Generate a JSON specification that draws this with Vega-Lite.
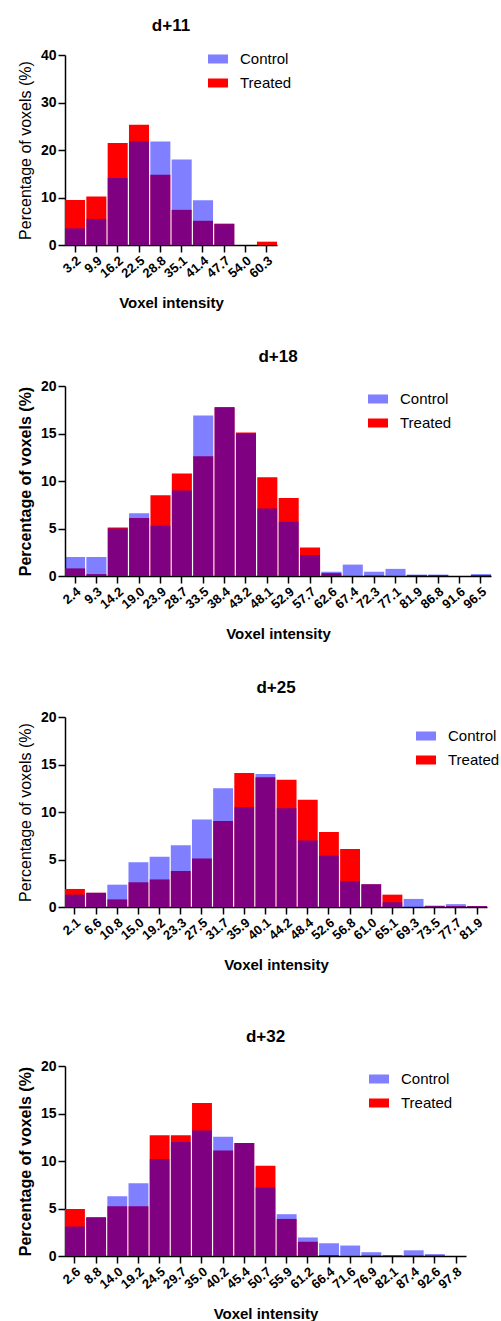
{
  "$schema": "https://vega.github.io/schema/vega-lite/v6.json",
  "padding": {"top": 17, "left": 17, "right": 0, "bottom": 0},
  "background": "white",
  "config": {
    "font": "Liberation Sans",
    "view": {"stroke": null},
    "axis": {"grid": false, "domainColor": "black", "tickColor": "black", "labelColor": "black", "titleColor": "black", "domainWidth": 1.5, "tickWidth": 1.5, "tickSize": 7, "labelPadding": 2, "labelFont": "Liberation Sans", "titleFont": "Liberation Sans"},
    "axisX": {"labelFontSize": 13, "labelFontWeight": "bold", "titleFontSize": 15, "titleFontWeight": "bold", "titlePadding": 15},
    "axisY": {"labelFontSize": 14, "labelFontWeight": "bold", "titleFontSize": 16, "titleFontWeight": "normal", "titlePadding": 7},
    "title": {"fontSize": 17, "fontWeight": "bold", "color": "black", "anchor": "middle", "frame": "group", "offset": 13, "font": "Liberation Sans"},
    "legend": {"title": null, "orient": "none", "symbolType": "M-1,-0.45H1V0.45H-1Z", "symbolSize": 400, "symbolStrokeWidth": 0, "labelFontSize": 15, "labelColor": "black", "labelOffset": 12, "rowPadding": 6, "padding": 0, "labelFont": "Liberation Sans"},
    "bar": {"strokeWidth": 0}
  },
  "datasets": {
    "d11": [
      {"bin": "3.2", "group": "Treated", "pct": 9.5}, {"bin": "3.2", "group": "Control", "pct": 3.5},
      {"bin": "9.9", "group": "Treated", "pct": 10.2}, {"bin": "9.9", "group": "Control", "pct": 5.5},
      {"bin": "16.2", "group": "Treated", "pct": 21.5}, {"bin": "16.2", "group": "Control", "pct": 14.1},
      {"bin": "22.5", "group": "Treated", "pct": 25.3}, {"bin": "22.5", "group": "Control", "pct": 21.8},
      {"bin": "28.8", "group": "Treated", "pct": 14.8}, {"bin": "28.8", "group": "Control", "pct": 21.8},
      {"bin": "35.1", "group": "Treated", "pct": 7.4}, {"bin": "35.1", "group": "Control", "pct": 18.0},
      {"bin": "41.4", "group": "Treated", "pct": 5.1}, {"bin": "41.4", "group": "Control", "pct": 9.4},
      {"bin": "47.7", "group": "Treated", "pct": 4.5}, {"bin": "47.7", "group": "Control", "pct": 4.4},
      {"bin": "54.0", "group": "Treated", "pct": 0}, {"bin": "54.0", "group": "Control", "pct": 0},
      {"bin": "60.3", "group": "Treated", "pct": 0.7}, {"bin": "60.3", "group": "Control", "pct": 0}
    ],
    "d18": [
      {"bin": "2.4", "group": "Treated", "pct": 0.8}, {"bin": "2.4", "group": "Control", "pct": 2.0},
      {"bin": "9.3", "group": "Treated", "pct": 0.2}, {"bin": "9.3", "group": "Control", "pct": 2.0},
      {"bin": "14.2", "group": "Treated", "pct": 5.1}, {"bin": "14.2", "group": "Control", "pct": 5.0},
      {"bin": "19.0", "group": "Treated", "pct": 6.1}, {"bin": "19.0", "group": "Control", "pct": 6.6},
      {"bin": "23.9", "group": "Treated", "pct": 8.5}, {"bin": "23.9", "group": "Control", "pct": 5.3},
      {"bin": "28.7", "group": "Treated", "pct": 10.8}, {"bin": "28.7", "group": "Control", "pct": 9.0},
      {"bin": "33.5", "group": "Treated", "pct": 12.6}, {"bin": "33.5", "group": "Control", "pct": 16.9},
      {"bin": "38.4", "group": "Treated", "pct": 17.8}, {"bin": "38.4", "group": "Control", "pct": 17.7},
      {"bin": "43.2", "group": "Treated", "pct": 15.1}, {"bin": "43.2", "group": "Control", "pct": 15.0},
      {"bin": "48.1", "group": "Treated", "pct": 10.4}, {"bin": "48.1", "group": "Control", "pct": 7.1},
      {"bin": "52.9", "group": "Treated", "pct": 8.2}, {"bin": "52.9", "group": "Control", "pct": 5.7},
      {"bin": "57.7", "group": "Treated", "pct": 3.0}, {"bin": "57.7", "group": "Control", "pct": 2.2},
      {"bin": "62.6", "group": "Treated", "pct": 0.3}, {"bin": "62.6", "group": "Control", "pct": 0.45},
      {"bin": "67.4", "group": "Treated", "pct": 0}, {"bin": "67.4", "group": "Control", "pct": 1.2},
      {"bin": "72.3", "group": "Treated", "pct": 0.05}, {"bin": "72.3", "group": "Control", "pct": 0.45},
      {"bin": "77.1", "group": "Treated", "pct": 0}, {"bin": "77.1", "group": "Control", "pct": 0.75},
      {"bin": "81.9", "group": "Treated", "pct": 0.1}, {"bin": "81.9", "group": "Control", "pct": 0.15},
      {"bin": "86.8", "group": "Treated", "pct": 0.1}, {"bin": "86.8", "group": "Control", "pct": 0.15},
      {"bin": "91.6", "group": "Treated", "pct": 0}, {"bin": "91.6", "group": "Control", "pct": 0},
      {"bin": "96.5", "group": "Treated", "pct": 0.1}, {"bin": "96.5", "group": "Control", "pct": 0.2}
    ],
    "d25": [
      {"bin": "2.1", "group": "Treated", "pct": 1.9}, {"bin": "2.1", "group": "Control", "pct": 1.3},
      {"bin": "6.6", "group": "Treated", "pct": 1.5}, {"bin": "6.6", "group": "Control", "pct": 1.5},
      {"bin": "10.8", "group": "Treated", "pct": 0.8}, {"bin": "10.8", "group": "Control", "pct": 2.35},
      {"bin": "15.0", "group": "Treated", "pct": 2.6}, {"bin": "15.0", "group": "Control", "pct": 4.7},
      {"bin": "19.2", "group": "Treated", "pct": 2.9}, {"bin": "19.2", "group": "Control", "pct": 5.3},
      {"bin": "23.3", "group": "Treated", "pct": 3.8}, {"bin": "23.3", "group": "Control", "pct": 6.5},
      {"bin": "27.5", "group": "Treated", "pct": 5.1}, {"bin": "27.5", "group": "Control", "pct": 9.2},
      {"bin": "31.7", "group": "Treated", "pct": 9.05}, {"bin": "31.7", "group": "Control", "pct": 12.5},
      {"bin": "35.9", "group": "Treated", "pct": 14.1}, {"bin": "35.9", "group": "Control", "pct": 10.5},
      {"bin": "40.1", "group": "Treated", "pct": 13.65}, {"bin": "40.1", "group": "Control", "pct": 14.0},
      {"bin": "44.2", "group": "Treated", "pct": 13.4}, {"bin": "44.2", "group": "Control", "pct": 10.4},
      {"bin": "48.4", "group": "Treated", "pct": 11.3}, {"bin": "48.4", "group": "Control", "pct": 7.0},
      {"bin": "52.6", "group": "Treated", "pct": 7.9}, {"bin": "52.6", "group": "Control", "pct": 5.4},
      {"bin": "56.8", "group": "Treated", "pct": 6.1}, {"bin": "56.8", "group": "Control", "pct": 2.7},
      {"bin": "61.0", "group": "Treated", "pct": 2.4}, {"bin": "61.0", "group": "Control", "pct": 2.4},
      {"bin": "65.1", "group": "Treated", "pct": 1.3}, {"bin": "65.1", "group": "Control", "pct": 0.5},
      {"bin": "69.3", "group": "Treated", "pct": 0}, {"bin": "69.3", "group": "Control", "pct": 0.85},
      {"bin": "73.5", "group": "Treated", "pct": 0.1}, {"bin": "73.5", "group": "Control", "pct": 0.15},
      {"bin": "77.7", "group": "Treated", "pct": 0.1}, {"bin": "77.7", "group": "Control", "pct": 0.3},
      {"bin": "81.9", "group": "Treated", "pct": 0.1}, {"bin": "81.9", "group": "Control", "pct": 0.1}
    ],
    "d32": [
      {"bin": "2.6", "group": "Treated", "pct": 4.95}, {"bin": "2.6", "group": "Control", "pct": 3.1},
      {"bin": "8.8", "group": "Treated", "pct": 4.1}, {"bin": "8.8", "group": "Control", "pct": 4.0},
      {"bin": "14.0", "group": "Treated", "pct": 5.25}, {"bin": "14.0", "group": "Control", "pct": 6.3},
      {"bin": "19.2", "group": "Treated", "pct": 5.25}, {"bin": "19.2", "group": "Control", "pct": 7.65},
      {"bin": "24.5", "group": "Treated", "pct": 12.7}, {"bin": "24.5", "group": "Control", "pct": 10.2},
      {"bin": "29.7", "group": "Treated", "pct": 12.7}, {"bin": "29.7", "group": "Control", "pct": 12.0},
      {"bin": "35.0", "group": "Treated", "pct": 16.1}, {"bin": "35.0", "group": "Control", "pct": 13.2},
      {"bin": "40.2", "group": "Treated", "pct": 11.1}, {"bin": "40.2", "group": "Control", "pct": 12.55},
      {"bin": "45.4", "group": "Treated", "pct": 11.9}, {"bin": "45.4", "group": "Control", "pct": 11.9},
      {"bin": "50.7", "group": "Treated", "pct": 9.5}, {"bin": "50.7", "group": "Control", "pct": 7.2},
      {"bin": "55.9", "group": "Treated", "pct": 3.9}, {"bin": "55.9", "group": "Control", "pct": 4.4},
      {"bin": "61.2", "group": "Treated", "pct": 1.5}, {"bin": "61.2", "group": "Control", "pct": 1.95},
      {"bin": "66.4", "group": "Treated", "pct": 0.1}, {"bin": "66.4", "group": "Control", "pct": 1.33},
      {"bin": "71.6", "group": "Treated", "pct": 0}, {"bin": "71.6", "group": "Control", "pct": 1.1},
      {"bin": "76.9", "group": "Treated", "pct": 0.05}, {"bin": "76.9", "group": "Control", "pct": 0.4},
      {"bin": "82.1", "group": "Treated", "pct": 0.05}, {"bin": "82.1", "group": "Control", "pct": 0.1},
      {"bin": "87.4", "group": "Treated", "pct": 0.05}, {"bin": "87.4", "group": "Control", "pct": 0.6},
      {"bin": "92.6", "group": "Treated", "pct": 0.05}, {"bin": "92.6", "group": "Control", "pct": 0.2},
      {"bin": "97.8", "group": "Treated", "pct": 0}, {"bin": "97.8", "group": "Control", "pct": 0}
    ]
  },
  "resolve": {"scale": {"color": "independent", "opacity": "independent"}, "legend": {"color": "independent", "opacity": "independent"}},
  "spacing": 55,
  "vconcat": [
    {
      "resolve": {"scale": {"color": "independent", "opacity": "independent"}, "legend": {"color": "independent", "opacity": "independent"}},
      "spacing": 37,
      "vconcat": [
        {
          "title": {"text": "d+11"},
          "width": 212, "height": 190,
          "data": {"name": "d11"},
          "mark": {"type": "bar"},
          "encoding": {
            "x": {"field": "bin", "type": "ordinal", "sort": null, "scale": {"paddingInner": 0.06, "paddingOuter": 0}, "axis": {"labelAngle": -40}, "title": "Voxel intensity"},
            "y": {"field": "pct", "type": "quantitative", "stack": null, "scale": {"domain": [0, 40], "nice": false}, "axis": {"values": [0, 10, 20, 30, 40]}, "title": "Percentage of voxels (%)"},
            "color": {"field": "group", "type": "nominal", "scale": {"domain": ["Control", "Treated"], "range": ["#0000ff", "#ff0000"]}, "legend": {"legendX": 143, "legendY": -6}},
            "opacity": {"field": "group", "type": "nominal", "scale": {"domain": ["Control", "Treated"], "range": [0.5, 1]}, "legend": {"legendX": 143, "legendY": -6}},
            "order": {"field": "group", "sort": "descending"}
          }
        },
        {
          "title": {"text": "d+18"},
          "width": 426, "height": 190,
          "data": {"name": "d18"},
          "mark": {"type": "bar"},
          "encoding": {
            "x": {"field": "bin", "type": "ordinal", "sort": null, "scale": {"paddingInner": 0.06, "paddingOuter": 0}, "axis": {"labelAngle": -40}, "title": "Voxel intensity"},
            "y": {"field": "pct", "type": "quantitative", "stack": null, "scale": {"domain": [0, 20], "nice": false}, "axis": {"values": [0, 5, 10, 15, 20], "titleFontWeight": "bold"}, "title": "Percentage of voxels (%)"},
            "color": {"field": "group", "type": "nominal", "scale": {"domain": ["Control", "Treated"], "range": ["#0000ff", "#ff0000"]}, "legend": {"legendX": 303, "legendY": 3}},
            "opacity": {"field": "group", "type": "nominal", "scale": {"domain": ["Control", "Treated"], "range": [0.5, 1]}, "legend": {"legendX": 303, "legendY": 3}},
            "order": {"field": "group", "sort": "descending"}
          }
        },
        {
          "title": {"text": "d+25"},
          "width": 422, "height": 190,
          "data": {"name": "d25"},
          "mark": {"type": "bar"},
          "encoding": {
            "x": {"field": "bin", "type": "ordinal", "sort": null, "scale": {"paddingInner": 0.06, "paddingOuter": 0}, "axis": {"labelAngle": -40}, "title": "Voxel intensity"},
            "y": {"field": "pct", "type": "quantitative", "stack": null, "scale": {"domain": [0, 20], "nice": false}, "axis": {"values": [0, 5, 10, 15, 20]}, "title": "Percentage of voxels (%)"},
            "color": {"field": "group", "type": "nominal", "scale": {"domain": ["Control", "Treated"], "range": ["#0000ff", "#ff0000"]}, "legend": {"legendX": 351, "legendY": 9}},
            "opacity": {"field": "group", "type": "nominal", "scale": {"domain": ["Control", "Treated"], "range": [0.5, 1]}, "legend": {"legendX": 351, "legendY": 9}},
            "order": {"field": "group", "sort": "descending"}
          }
        }
      ]
    },
    {
      "title": {"text": "d+32"},
      "width": 401, "height": 190,
      "data": {"name": "d32"},
      "mark": {"type": "bar"},
      "encoding": {
        "x": {"field": "bin", "type": "ordinal", "sort": null, "scale": {"paddingInner": 0.06, "paddingOuter": 0}, "axis": {"labelAngle": -40}, "title": "Voxel intensity"},
        "y": {"field": "pct", "type": "quantitative", "stack": null, "scale": {"domain": [0, 20], "nice": false}, "axis": {"values": [0, 5, 10, 15, 20], "titleFontWeight": "bold"}, "title": "Percentage of voxels (%)"},
        "color": {"field": "group", "type": "nominal", "scale": {"domain": ["Control", "Treated"], "range": ["#0000ff", "#ff0000"]}, "legend": {"legendX": 304, "legendY": 3}},
        "opacity": {"field": "group", "type": "nominal", "scale": {"domain": ["Control", "Treated"], "range": [0.5, 1]}, "legend": {"legendX": 304, "legendY": 3}},
        "order": {"field": "group", "sort": "descending"}
      }
    }
  ]
}
